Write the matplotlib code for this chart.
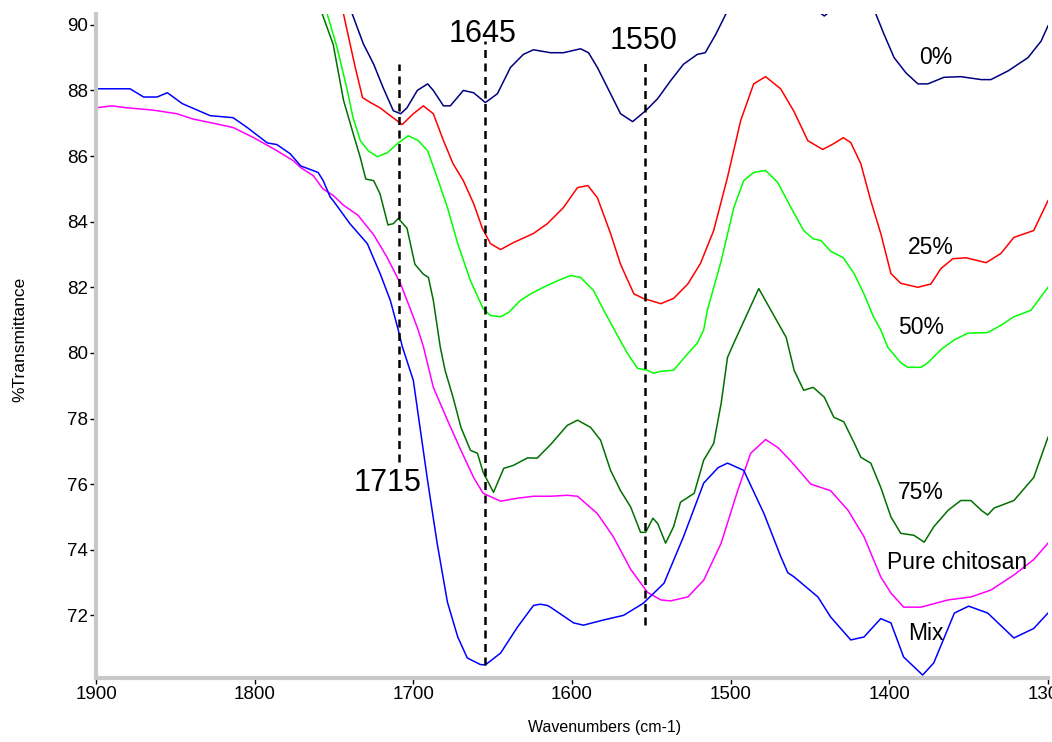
import matplotlib
matplotlib.use("Agg")
import matplotlib.pyplot as plt
from matplotlib.ticker import MultipleLocator

# ---- data (wavenumber, %T) ----
mix_w = [1900, 1878.5, 1870, 1861.5, 1855, 1845.7, 1828, 1813.6, 1804.7, 1792, 1786, 1777.6,
         1771, 1760, 1756.8, 1752.4, 1750.5, 1740, 1729, 1720.8, 1714.5, 1709.5, 1707, 1700,
         1691, 1685, 1678.5, 1672, 1666, 1657.7, 1654.6, 1645, 1634.4, 1624.3, 1620, 1615.5,
         1613.6, 1599, 1592.8, 1580, 1567.5, 1555, 1542, 1529.7, 1517, 1508, 1502, 1491.8,
         1479, 1468.5, 1464, 1460, 1445, 1437, 1424.3, 1416, 1405.4, 1399, 1391, 1379, 1372,
         1359, 1350, 1338, 1321.5, 1309, 1300]
mix_t = [88.05, 88.05, 87.8, 87.8, 87.93, 87.6, 87.23, 87.17, 86.87, 86.4, 86.35, 86.07,
         85.7, 85.5, 85.25, 84.75, 84.64, 83.94, 83.33, 82.4, 81.6, 80.7, 80.2, 79.16,
         76.1, 74.2, 72.4, 71.34, 70.7, 70.5, 70.49, 70.85, 71.64, 72.3, 72.34, 72.3,
         72.25, 71.77, 71.7, 71.86, 72.0, 72.37, 72.98, 74.4, 76.03, 76.5, 76.64, 76.42,
         75.1, 73.8, 73.3, 73.17, 72.56, 71.95, 71.25, 71.34, 71.9, 71.77, 70.73, 70.18, 70.55,
         72.07, 72.28, 72.07, 71.31, 71.6, 72.07]

chit_w = [1900, 1890, 1880.4, 1864, 1849, 1839, 1826, 1813.6, 1801, 1788, 1775.7, 1771,
          1763, 1757, 1750.5, 1744, 1741, 1735, 1725, 1716.4, 1708, 1700, 1697, 1693.7,
          1687.4, 1678.5, 1670, 1662, 1656, 1645, 1634.4, 1624.3, 1613.6, 1603, 1596.5, 1584,
          1574, 1563, 1552.4, 1544, 1538, 1527, 1517, 1506, 1495.6, 1487.4, 1478, 1470.4,
          1462, 1449.5, 1437, 1426, 1416, 1405.4, 1399, 1391, 1380, 1363, 1348.6, 1336,
          1321.5, 1309, 1300]
chit_t = [87.47, 87.53, 87.47, 87.4, 87.29, 87.13, 87.0, 86.87, 86.57, 86.22, 85.86, 85.65,
          85.4, 85.0, 84.8, 84.5, 84.4, 84.2, 83.6, 82.9, 82.1, 81.1, 80.7, 80.2,
          78.95, 77.95, 77.03, 76.2, 75.72, 75.48, 75.57, 75.63, 75.63, 75.66, 75.63, 75.1,
          74.4, 73.4, 72.7, 72.47, 72.44, 72.56, 73.07, 74.2, 75.8, 76.94, 77.36, 77.12,
          76.7, 76.0, 75.8, 75.2, 74.4, 73.17, 72.68, 72.25, 72.25, 72.47, 72.56, 72.77,
          73.23, 73.7, 74.2]

p75_w = [1770, 1757.4, 1750.5, 1744, 1738, 1733.4, 1730, 1725, 1721, 1716, 1712.6, 1709.5,
         1704, 1699, 1693.7, 1690.5, 1687.4, 1683, 1680, 1675, 1670, 1664, 1659.6, 1656,
         1649.5, 1643, 1637, 1628, 1622, 1613.6, 1603, 1596.5, 1588.3, 1582, 1575.7, 1569.4,
         1563, 1556.8, 1553.6, 1549, 1546, 1541, 1536, 1531.6, 1523, 1517, 1510.7, 1506,
         1502, 1498, 1482.3, 1465, 1460, 1454, 1448, 1441, 1435, 1428.7, 1422, 1418,
         1411.7, 1405.4, 1399, 1392.8, 1384.5, 1378, 1372, 1363, 1355, 1348.6, 1342, 1338,
         1334, 1321.5, 1309, 1300]
p75_t = [92.2, 90.33, 89.4, 87.7, 86.7, 85.95, 85.3, 85.25, 84.85, 83.9, 83.94, 84.1,
         83.8, 82.7, 82.4, 82.3, 81.6, 80.17, 79.47, 78.65, 77.73, 77.03, 76.94, 76.36,
         75.75, 76.48, 76.57, 76.8, 76.79, 77.2, 77.79, 77.95, 77.73, 77.34, 76.42, 75.8,
         75.3, 74.53, 74.53, 74.96, 74.8, 74.2, 74.7, 75.45, 75.72, 76.73, 77.24, 78.46,
         79.86, 80.3, 81.96, 80.47, 79.47, 78.86, 78.95, 78.65, 78.04, 77.9, 77.24, 76.82,
         76.64, 75.9, 75.0, 74.5, 74.44, 74.23, 74.7, 75.2, 75.5, 75.5, 75.2, 75.06,
         75.27, 75.5, 76.2, 77.43]

p50_w = [1765, 1754.3, 1748, 1741.6, 1738, 1733.4, 1728.4, 1722.7, 1716.4, 1710, 1703.2,
         1696.9, 1691, 1685, 1678.5, 1672, 1664, 1656, 1651.4, 1645, 1640, 1632.5, 1626,
         1618, 1609, 1601, 1594.6, 1586.4, 1580, 1571, 1565, 1558.7, 1552.4, 1548.6, 1544,
         1536, 1527, 1521, 1517, 1514.7, 1506, 1498, 1491.8, 1485.5, 1478, 1470.4, 1462,
         1454, 1448, 1443, 1437, 1429, 1422, 1416, 1410, 1405.4, 1401, 1392.8, 1388.4, 1380,
         1375.7, 1367.5, 1359, 1350.5, 1338, 1329.7, 1321.5, 1310.7, 1300]
p50_t = [92.0, 90.33, 89.3, 88.0, 87.17, 86.47, 86.16, 85.98, 86.1, 86.38, 86.62,
         86.47, 86.16, 85.35, 84.43, 83.33, 82.2, 81.35, 81.14, 81.1, 81.23, 81.6, 81.8,
         82.0, 82.2, 82.36, 82.3, 81.9, 81.3, 80.5, 79.98, 79.53, 79.47, 79.38, 79.44,
         79.47, 79.98, 80.3, 80.7, 81.3, 82.8, 84.43, 85.25, 85.5, 85.56, 85.2, 84.43,
         83.73, 83.48, 83.42, 83.1, 82.9, 82.4, 81.8, 81.1, 80.7, 80.17, 79.7, 79.56, 79.56,
         79.7, 80.1, 80.4, 80.6, 80.62, 80.84, 81.1, 81.3, 82.0]

p25_w = [1750, 1744, 1739.8, 1736.6, 1732, 1727, 1721, 1714.5, 1707, 1700, 1693.7, 1687.4,
         1681, 1675, 1668.5, 1662, 1656.5, 1651.4, 1645, 1637, 1624.3, 1615.5, 1605.4, 1596.5,
         1590, 1584, 1575.7, 1569.4, 1561, 1555, 1544, 1536, 1527, 1519, 1510.7, 1502,
         1493.7, 1485.5, 1478, 1468.5, 1460, 1451.4, 1442, 1435, 1429, 1424.3, 1418, 1411.7,
         1405.4, 1399, 1392.8, 1382, 1373.8, 1367.5, 1360, 1351.7, 1339, 1329.7, 1321.5,
         1309, 1300]
p25_t = [91.8, 90.33, 89.4, 88.7, 87.78, 87.63, 87.47, 87.23, 86.96, 87.29, 87.53, 87.29,
         86.47, 85.77, 85.25, 84.55, 83.8, 83.33, 83.15, 83.36, 83.64, 83.94, 84.43, 85.04,
         85.1, 84.73, 83.64, 82.7, 81.8, 81.66, 81.5, 81.66, 82.1, 82.73, 83.73, 85.35,
         87.08, 88.2, 88.42, 88.05, 87.35, 86.47, 86.2, 86.38, 86.56, 86.41, 85.77, 84.64,
         83.64, 82.42, 82.12, 82.0, 82.1, 82.57, 82.87, 82.9, 82.75, 83.03, 83.52,
         83.73, 84.64]

p0_w = [1745, 1738.5, 1731.5, 1725, 1719, 1712.6, 1708, 1704, 1697.5, 1691, 1687.4, 1681,
        1676.7, 1668.5, 1662, 1654.6, 1647, 1638.8, 1630.6, 1624.3, 1613.6, 1605.4, 1594.6,
        1589.6, 1584, 1575.7, 1569.4, 1561.8, 1553.6, 1546, 1537.8, 1529.7, 1521, 1516,
        1509.5, 1503, 1490, 1470, 1450, 1441, 1432, 1418, 1408.5, 1403.5, 1397, 1389.6,
        1382, 1375.7, 1365.6, 1355, 1342, 1336, 1325, 1312.6, 1304.4, 1300]
p0_t = [91.2, 90.33, 89.42, 88.8, 88.08, 87.38, 87.29, 87.47, 88.0, 88.2, 88.0, 87.53,
        87.53, 88.0, 87.93, 87.63, 87.9, 88.7, 89.1, 89.24, 89.15, 89.15, 89.27,
        89.15, 88.7, 87.9, 87.29, 87.05, 87.38, 87.75, 88.3, 88.8, 89.1, 89.15,
        89.7, 90.33, 91.3, 91.5, 90.6, 90.27, 90.6, 91.0, 90.33, 89.73, 89.0, 88.54,
        88.2, 88.2, 88.4, 88.42, 88.33, 88.33, 88.6, 89.0, 89.5, 89.97]

series = [
    (p0_w, p0_t, "#000080"),
    (p25_w, p25_t, "#ff0000"),
    (p50_w, p50_t, "#00ff00"),
    (p75_w, p75_t, "#007000"),
    (chit_w, chit_t, "#ff00ff"),
    (mix_w, mix_t, "#0000ff"),
]

# curve labels (text, wavenumber, %T)
curve_labels = [("0%", 1370.7, 89.0), ("25%", 1373.8, 83.2), ("50%", 1380, 80.78),
                ("75%", 1380, 75.75), ("Pure chitosan", 1357.4, 73.62), ("Mix", 1377, 71.46)]

# dashed marker lines: (wavenumber, bottom, top) and their labels
peak_lines = [(1709, 76.67, 88.82), (1655, 70.49, 89.5), (1554, 71.7, 88.96)]
peak_text = [("1715", 1716.4, 76.03), ("1645", 1656.5, 89.73), ("1550", 1555, 89.5)]

fig = plt.figure(figsize=(10.52, 7.42), dpi=100)
ax = fig.add_axes([96 / 1052, 1 - 678 / 742, 952 / 1052, 664 / 742])

for w, t, c in series:
    ax.plot(w, t, color=c, lw=1.1)

for x, y0, y1 in peak_lines:
    ax.plot([x, x], [y0, y1], color="black", lw=1.8, dashes=(3.2, 2.2))

for s, x, y in peak_text:
    ax.text(x, y, s, fontsize=22, ha="center", va="center", family="Liberation Sans")

for s, x, y in curve_labels:
    ax.text(x, y, s, fontsize=16.5, ha="center", va="center", family="Liberation Sans")

ax.set_xlim(1900, 1300)
ax.set_ylim(70.09, 90.33)
ax.xaxis.set_major_locator(MultipleLocator(100))
ax.xaxis.set_minor_locator(MultipleLocator(25))
ax.yaxis.set_major_locator(MultipleLocator(2))
ax.yaxis.set_minor_locator(MultipleLocator(0.5))
ax.set_yticks([72, 74, 76, 78, 80, 82, 84, 86, 88, 90])

for side in ["top", "right"]:
    ax.spines[side].set_visible(False)
for side in ["left", "bottom"]:
    ax.spines[side].set_color("#c8c8c8")
    ax.spines[side].set_linewidth(3)

ax.tick_params(which="major", direction="out", length=4, width=1, color="black", pad=2)
ax.tick_params(which="minor", direction="inout", length=2, width=1.4, color="black")
for lab in ax.get_xticklabels() + ax.get_yticklabels():
    lab.set_family("Liberation Sans")
    lab.set_fontsize(13.5)

ax.set_xlabel("Wavenumbers (cm-1)", fontsize=11.5, family="Liberation Sans")
ax.xaxis.set_label_coords(0.534, -0.063)
ax.set_ylabel("%Transmittance", fontsize=12.5, family="Liberation Sans")
ax.yaxis.set_label_coords(-0.072, 0.51)

fig.savefig("out.png", dpi=100)
